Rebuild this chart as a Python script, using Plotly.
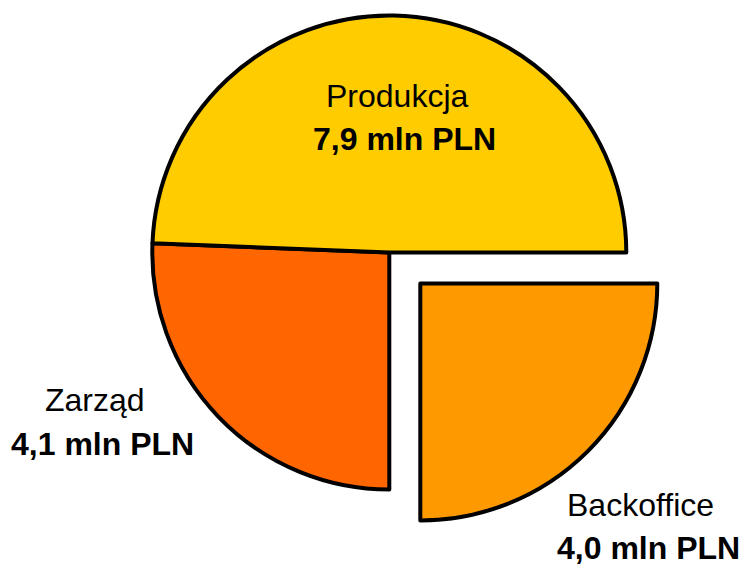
import plotly.graph_objects as go

# ---- data ----
labels = ["Produkcja", "Zarząd", "Backoffice"]
values = [7.9, 4.1, 4.0]
colors = ["#FFCC00", "#FF6600", "#FF9900"]
pulled = [False, False, True]
unit = "mln PLN"

# ---- layout constants (pixels) ----
W, H = 744, 567
cx, cy, r = 389.3, 252.5, 237.0   # pie centre / radius
pull_dx, pull_dy = 31.0, 31.0     # offset of the exploded slice
line_w = 4
font_size = 32

# label positions: (name centre x, name y, value centre x, value y)
label_pos = {
    "Produkcja": (397.5, 95.5, 405.0, 139.0),
    "Zarząd": (95.0, 400.0, 103.0, 444.0),
    "Backoffice": (640.5, 505.0, 648.5, 548.0),
}

def domain(ccx, ccy, rr):
    return dict(x=[(ccx - rr) / W, (ccx + rr) / W],
                y=[1 - (ccy + rr) / H, 1 - (ccy - rr) / H])

def trace_for(show_pulled, ccx, ccy):
    # clockwise from 3 o'clock with reversed order == counter-clockwise order of the original
    labs, vals, cols, pls = labels[::-1], values[::-1], colors[::-1], pulled[::-1]
    vis = [p == show_pulled for p in pls]
    return go.Pie(
        labels=labs, values=vals, sort=False,
        direction="clockwise", rotation=90,
        marker=dict(colors=[c if v else "rgba(0,0,0,0)" for c, v in zip(cols, vis)],
                    line=dict(color="black", width=[line_w if v else 0 for v in vis])),
        textinfo="none", hoverinfo="label+value", showlegend=False,
        domain=domain(ccx, ccy, r),
    )

fig = go.Figure()
fig.add_trace(trace_for(False, cx, cy))
fig.add_trace(trace_for(True, cx + pull_dx, cy + pull_dy))

font = "Liberation Sans, Arial, sans-serif"
for lab, val in zip(labels, values):
    nx, ny, vx, vy = label_pos[lab]
    fig.add_annotation(text=lab, x=nx / W, y=1 - ny / H, xref="paper", yref="paper",
                       showarrow=False, xanchor="center", yanchor="middle",
                       font=dict(family=font, size=font_size, color="black"))
    vtxt = f"{val:.1f}".replace(".", ",") + " " + unit
    fig.add_annotation(text=f"<b>{vtxt}</b>", x=vx / W, y=1 - vy / H, xref="paper", yref="paper",
                       showarrow=False, xanchor="center", yanchor="middle",
                       font=dict(family=font, size=font_size, color="black"))

fig.update_layout(width=W, height=H, margin=dict(l=0, r=0, t=0, b=0),
                  paper_bgcolor="white", plot_bgcolor="white")
fig.write_html("out.html", config={"displayModeBar": False},
               post_script="document.body.style.margin='0';document.body.style.padding='0';"
                           "document.body.style.overflow='hidden';")
